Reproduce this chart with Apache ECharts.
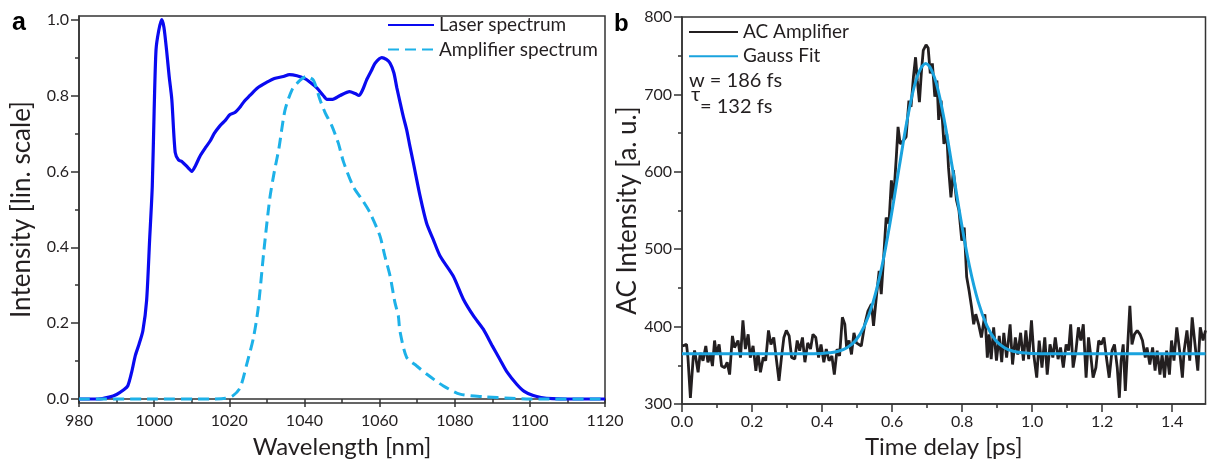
<!DOCTYPE html>
<html>
<head>
<meta charset="utf-8">
<title>Laser / amplifier spectrum and autocorrelation</title>
<script src="https://cdn.jsdelivr.net/npm/echarts@6/dist/echarts.min.js"></script>
<style>
  html, body { margin: 0; padding: 0; background: #fff; }
  #chart { width: 1207px; height: 464px; }
</style>
</head>
<body>
<div id="chart"></div>
<script>
// ---- Panel a: spectra ----
const laserWl = [980, 985, 988, 990, 992, 993, 994, 995, 996, 997, 998, 998.8, 999.5, 1000, 1000.5, 1001.2, 1002, 1002.6, 1003.3, 1004, 1004.7, 1005.6, 1006.5, 1007.5, 1009, 1010, 1011, 1012.2, 1013.5, 1014.9, 1016, 1017.5, 1019, 1020.2, 1021.5, 1022.9, 1024, 1025.5, 1027.5, 1030, 1032, 1034.4, 1036, 1038, 1040, 1041.5, 1043.3, 1045, 1046, 1047.5, 1049.5, 1052, 1053.5, 1054.5, 1055.5, 1056.5, 1057.8, 1058.8, 1060.6, 1061.8, 1062.8, 1063.8, 1064.6, 1065.5, 1066.3, 1067.2, 1068, 1069, 1070.8, 1072.5, 1074.3, 1076.1, 1079.6, 1082.3, 1085, 1087.6, 1090, 1092, 1094, 1096.5, 1098.5, 1100.9, 1103, 1106, 1110, 1120];
const laserInt = [0, 0, 0.005, 0.012, 0.025, 0.035, 0.07, 0.115, 0.145, 0.18, 0.26, 0.42, 0.56, 0.76, 0.92, 0.97, 1.0, 0.98, 0.92, 0.85, 0.79, 0.65, 0.63, 0.625, 0.61, 0.6, 0.615, 0.64, 0.66, 0.68, 0.70, 0.72, 0.735, 0.75, 0.755, 0.77, 0.785, 0.80, 0.82, 0.835, 0.845, 0.85, 0.855, 0.852, 0.845, 0.835, 0.82, 0.80, 0.79, 0.79, 0.80, 0.81, 0.805, 0.80, 0.815, 0.84, 0.865, 0.885, 0.90, 0.895, 0.885, 0.86, 0.82, 0.78, 0.745, 0.71, 0.67, 0.622, 0.534, 0.464, 0.42, 0.377, 0.324, 0.263, 0.219, 0.184, 0.14, 0.105, 0.07, 0.039, 0.02, 0.009, 0.004, 0.001, 0, 0];

const ampWl = [980, 1000, 1015, 1019, 1021, 1022.9, 1024.6, 1026.4, 1027.7, 1029.2, 1030.8, 1032, 1033.2, 1034.8, 1036.7, 1038.8, 1040.5, 1042.4, 1044.1, 1045.5, 1047.3, 1049, 1050.4, 1053, 1055.7, 1057.5, 1060.1, 1061.4, 1062.8, 1064.1, 1065, 1065.4, 1067.2, 1069.9, 1072.5, 1076.9, 1081.4, 1087.6, 1095, 1100, 1120];
const ampInt = [0, 0, 0, 0.002, 0.009, 0.03, 0.09, 0.16, 0.24, 0.39, 0.53, 0.60, 0.66, 0.76, 0.815, 0.84, 0.85, 0.84, 0.79, 0.755, 0.72, 0.675, 0.625, 0.56, 0.52, 0.49, 0.43, 0.377, 0.324, 0.254, 0.219, 0.18, 0.11, 0.087, 0.066, 0.035, 0.013, 0.006, 0.002, 0, 0];

const wlTicks = [980, 1000, 1020, 1040, 1060, 1080, 1100, 1120];
const intTicks = [0, 0.2, 0.4, 0.6, 0.8, 1.0];
const intMinorTicks = [0.1, 0.3, 0.5, 0.7, 0.9];

// ---- Panel b: autocorrelation ----
const acTime = [0.001, 0.013, 0.017, 0.024, 0.032, 0.036, 0.046, 0.052, 0.060, 0.068, 0.074, 0.081, 0.087, 0.093, 0.098, 0.106, 0.113, 0.122, 0.129, 0.136, 0.144, 0.150, 0.160, 0.167, 0.174, 0.181, 0.189, 0.195, 0.203, 0.211, 0.217, 0.224, 0.232, 0.239, 0.247, 0.254, 0.262, 0.270, 0.277, 0.284, 0.291, 0.298, 0.306, 0.313, 0.322, 0.329, 0.336, 0.344, 0.351, 0.359, 0.367, 0.374, 0.382, 0.390, 0.397, 0.405, 0.412, 0.420, 0.428, 0.435, 0.443, 0.450, 0.458, 0.465, 0.470, 0.477, 0.484, 0.491, 0.498, 0.512, 0.522, 0.531, 0.541, 0.547, 0.555, 0.563, 0.569, 0.576, 0.583, 0.591, 0.598, 0.604, 0.612, 0.617, 0.623, 0.633, 0.640, 0.648, 0.654, 0.661, 0.667, 0.672, 0.678, 0.684, 0.689, 0.697, 0.703, 0.709, 0.715, 0.722, 0.728, 0.733, 0.740, 0.748, 0.756, 0.761, 0.768, 0.775, 0.784, 0.791, 0.799, 0.806, 0.813, 0.820, 0.827, 0.833, 0.839, 0.847, 0.855, 0.865, 0.872, 0.877, 0.883, 0.890, 0.898, 0.906, 0.913, 0.919, 0.927, 0.937, 0.944, 0.952, 0.959, 0.967, 0.975, 0.982, 0.990, 0.998, 1.005, 1.013, 1.020, 1.028, 1.036, 1.043, 1.051, 1.059, 1.066, 1.074, 1.081, 1.089, 1.097, 1.104, 1.110, 1.117, 1.125, 1.132, 1.139, 1.146, 1.154, 1.161, 1.168, 1.174, 1.182, 1.190, 1.197, 1.205, 1.212, 1.220, 1.228, 1.235, 1.243, 1.249, 1.254, 1.260, 1.266, 1.273, 1.279, 1.285, 1.292, 1.300, 1.308, 1.315, 1.323, 1.328, 1.336, 1.344, 1.351, 1.357, 1.365, 1.371, 1.378, 1.384, 1.392, 1.398, 1.405, 1.413, 1.421, 1.429, 1.434, 1.442, 1.450, 1.457, 1.465, 1.473, 1.480, 1.488, 1.495];
const acSignal = [375, 377, 360, 308, 360, 369, 341, 366, 356, 375, 354, 364, 349, 382, 364, 377, 349, 347, 354, 338, 388, 373, 382, 360, 408, 371, 390, 360, 375, 343, 366, 341, 360, 356, 395, 377, 386, 356, 330, 360, 386, 395, 388, 360, 358, 382, 369, 386, 354, 379, 371, 390, 386, 360, 377, 354, 371, 356, 362, 338, 371, 362, 412, 403, 373, 382, 364, 392, 379, 375, 403, 420, 429, 401, 438, 472, 442, 490, 541, 533, 589, 563, 619, 658, 636, 641, 645, 692, 684, 723, 748, 718, 690, 731, 757, 764, 760, 727, 740, 697, 718, 667, 692, 636, 649, 606, 567, 602, 563, 550, 511, 528, 464, 446, 425, 403, 416, 403, 386, 416, 360, 390, 358, 399, 356, 388, 354, 392, 360, 403, 351, 386, 364, 392, 356, 395, 358, 408, 362, 334, 382, 347, 386, 338, 377, 360, 386, 358, 373, 347, 377, 369, 403, 347, 369, 399, 382, 403, 334, 386, 360, 334, 347, 382, 377, 386, 360, 334, 369, 377, 347, 308, 356, 377, 317, 377, 427, 377, 390, 395, 390, 382, 360, 373, 351, 373, 343, 369, 338, 364, 334, 369, 338, 382, 356, 399, 369, 334, 369, 395, 356, 412, 377, 343, 399, 382, 395];

const fitTime = [0, 0.30, 0.35, 0.40, 0.421, 0.446, 0.471, 0.496, 0.521, 0.546, 0.571, 0.596, 0.621, 0.646, 0.671, 0.696, 0.721, 0.746, 0.771, 0.796, 0.821, 0.846, 0.871, 0.896, 0.921, 0.946, 0.971, 0.996, 1.05, 1.495];
const fitSignal = [365, 365, 365, 365.4, 366.1, 368.1, 372.7, 382, 401, 432, 478, 539, 608, 674, 722, 740, 722, 674, 608, 539, 478, 432, 401, 382, 372.7, 368.1, 366.1, 365.4, 365, 365];

const timeTicks = [0, 0.2, 0.4, 0.6, 0.8, 1.0, 1.2, 1.4];
const timeMinorTicks = [0.1, 0.3, 0.5, 0.7, 0.9, 1.1, 1.3];

const zip = (xs, ys) => xs.map((x, i) => [x, ys[i]]);

const FONT = 'Lato, "Open Sans", sans-serif';
const INK = '#231f20';
const AXIS = '#333333';

const axisLineStyle = { show: true, lineStyle: { color: AXIS, width: 1.5 } };
const labelStyle = { color: INK, fontSize: 16, fontFamily: FONT, margin: 10 };
const nameStyle = { color: INK, fontSize: 24, fontFamily: FONT };
const yNameStyle = { color: INK, fontSize: 26, fontFamily: FONT };
const tickStyle = { color: AXIS, width: 1.5 };

const chart = echarts.init(document.getElementById('chart'), null, { renderer: 'canvas' });

chart.setOption({
  animation: false,
  backgroundColor: '#ffffff',
  grid: [
    { left: 79, right: 602, top: 16, bottom: 60, show: true, borderColor: AXIS, borderWidth: 1.5, backgroundColor: 'transparent' },
    { left: 682, right: 1.5, top: 17, bottom: 60, show: true, borderColor: AXIS, borderWidth: 1.5, backgroundColor: 'transparent' }
  ],
  xAxis: [
    {
      gridIndex: 0, type: 'value', min: 980, max: 1120, interval: 20,
      name: 'Wavelength [nm]', nameLocation: 'middle', nameGap: 32, nameTextStyle: nameStyle,
      axisLine: axisLineStyle,
      axisTick: { show: true, length: 8, lineStyle: tickStyle },
      minorTick: { show: true, splitNumber: 2, length: 4, lineStyle: tickStyle },
      axisLabel: Object.assign({ customValues: wlTicks, formatter: v => String(v) }, labelStyle),
      splitLine: { show: false }
    },
    {
      gridIndex: 1, type: 'value', min: 0, max: 1.495,
      name: 'Time delay [ps]', nameLocation: 'middle', nameGap: 29, nameTextStyle: nameStyle,
      axisLine: axisLineStyle,
      axisTick: { show: true, customValues: timeTicks, length: 8, lineStyle: tickStyle },
      axisLabel: Object.assign({ customValues: timeTicks, formatter: v => v.toFixed(1) }, labelStyle),
      splitLine: { show: false }
    },
    {
      gridIndex: 1, type: 'value', min: 0, max: 1.495, position: 'bottom',
      axisLine: { show: false },
      axisTick: { show: true, customValues: timeMinorTicks, length: 4, lineStyle: tickStyle },
      axisLabel: { show: false },
      splitLine: { show: false }
    }
  ],
  yAxis: [
    {
      gridIndex: 0, type: 'value', min: -0.0105, max: 1.0095,
      name: 'Intensity [lin. scale]', nameLocation: 'middle', nameGap: 44, nameTextStyle: yNameStyle,
      axisLine: axisLineStyle,
      axisTick: { show: true, customValues: intTicks, length: 8, lineStyle: tickStyle },
      axisLabel: Object.assign({ customValues: intTicks, formatter: v => v.toFixed(1) }, labelStyle),
      splitLine: { show: false }
    },
    {
      gridIndex: 0, type: 'value', min: -0.0105, max: 1.0095, position: 'left',
      axisLine: { show: false },
      axisTick: { show: true, customValues: intMinorTicks, length: 4, lineStyle: tickStyle },
      axisLabel: { show: false },
      splitLine: { show: false }
    },
    {
      gridIndex: 1, type: 'value', min: 300, max: 800, interval: 100,
      name: 'AC Intensity [a. u.]', nameLocation: 'middle', nameGap: 41, nameTextStyle: yNameStyle,
      axisLine: axisLineStyle,
      axisTick: { show: true, length: 8, lineStyle: tickStyle },
      minorTick: { show: true, splitNumber: 2, length: 4, lineStyle: tickStyle },
      axisLabel: labelStyle,
      splitLine: { show: false }
    }
  ],
  legend: [
    {
      data: ['Laser spectrum', 'Amplifier spectrum'],
      orient: 'vertical', left: 387, top: 15.5, padding: 0,
      itemWidth: 46, itemHeight: 20, itemGap: 5.5,
      itemStyle: { opacity: 0 },
      selectedMode: false,
      textStyle: { color: INK, fontSize: 19, fontFamily: FONT }
    },
    {
      data: ['AC Amplifier', 'Gauss Fit'],
      orient: 'vertical', left: 688, top: 22.5, padding: 0,
      itemWidth: 49, itemHeight: 20, itemGap: 5.3,
      itemStyle: { opacity: 0 },
      selectedMode: false,
      textStyle: { color: INK, fontSize: 19, fontFamily: FONT }
    }
  ],
  graphic: [
    { type: 'text', left: 12, top: 11, style: { text: 'a', font: 'bold 25px "Liberation Sans", Arial, sans-serif', fill: '#000' } },
    { type: 'text', left: 614, top: 12, style: { text: 'b', font: 'bold 24px "Liberation Sans", Arial, sans-serif', fill: '#000' } },
    { type: 'text', left: 689, top: 71, style: { text: 'w = 186 fs', font: '20px ' + FONT, fill: INK } },
    { type: 'text', left: 691, top: 85, style: { text: 'τ', font: '20px ' + FONT, fill: INK } },
    { type: 'text', left: 700, top: 97, style: { text: '= 132 fs', font: '20px ' + FONT, fill: INK } }
  ],
  series: [
    {
      name: 'Laser spectrum', type: 'line', xAxisIndex: 0, yAxisIndex: 0,
      data: zip(laserWl, laserInt), showSymbol: false, symbol: 'none', smooth: 0.25,
      lineStyle: { color: '#0a0af0', width: 3.2 }, itemStyle: { color: '#0a0af0' }, z: 2
    },
    {
      name: 'Amplifier spectrum', type: 'line', xAxisIndex: 0, yAxisIndex: 0,
      data: zip(ampWl, ampInt), showSymbol: false, symbol: 'none', smooth: 0.25,
      lineStyle: { color: '#1db1e8', width: 3, type: [11, 6] }, itemStyle: { color: '#1db1e8' }, z: 3
    },
    {
      name: 'AC Amplifier', type: 'line', xAxisIndex: 1, yAxisIndex: 2,
      data: zip(acTime, acSignal), showSymbol: false, symbol: 'none',
      lineStyle: { color: INK, width: 2.8 }, itemStyle: { color: INK }, z: 2
    },
    {
      name: 'Gauss Fit', type: 'line', xAxisIndex: 1, yAxisIndex: 2,
      data: zip(fitTime, fitSignal), showSymbol: false, symbol: 'none', smooth: 0.35,
      lineStyle: { color: '#1aa3de', width: 3 }, itemStyle: { color: '#1aa3de' }, z: 3
    }
  ]
});
</script>
</body>
</html>
